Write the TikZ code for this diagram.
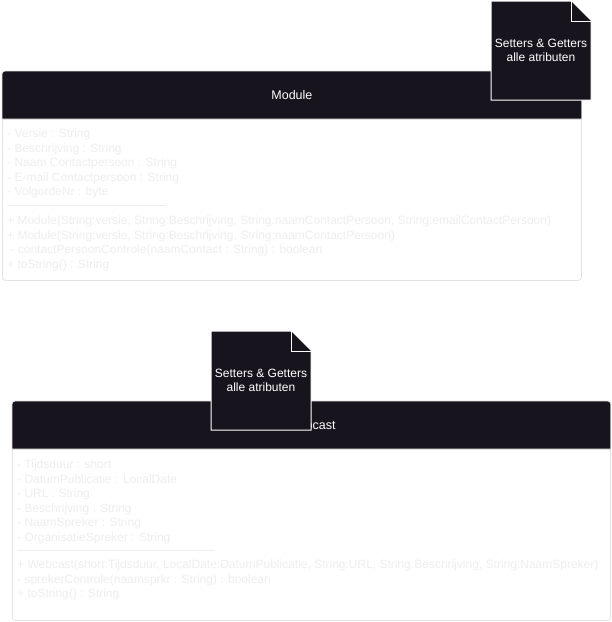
\documentclass[tikz,border=0pt]{standalone}
\usepackage{fontspec}
\setmainfont{Liberation Sans}
\usepackage{xcolor}
\definecolor{header}{RGB}{24, 20, 29}
\definecolor{faint}{RGB}{238, 238, 238}
\definecolor{edge}{RGB}{226, 226, 226}
\usetikzlibrary{positioning,calc}

\begin{document}
\begin{tikzpicture}[
  x=1pt, y=-1pt,
  classbox/.style={draw=edge, line width=0.8pt, fill=white, rounded corners=3pt, anchor=north west, inner sep=0pt},
  headfill/.style={fill=header, draw=edge, line width=0.8pt},
  title/.style={text=white, font=\fontsize{12.5}{14}\selectfont},
  members/.style={text=faint, font=\fontsize{12}{14.5}\selectfont, align=left, anchor=north west, inner sep=0pt},
  divider/.style={draw=faint, line width=0.8pt},
  notebg/.style={fill=header, draw=white, line width=1pt},
  notetext/.style={text=white, font=\fontsize{12}{14}\selectfont, align=center, inner sep=0pt}
]
\useasboundingbox (0,0) rectangle (612,622);

\node[classbox, minimum width=579pt, minimum height=209pt] (module) at (2,71) {};
\path[headfill] ($(module.north west)+(0,48)$) [rounded corners=3pt] -- (module.north west) -- (module.north east) [sharp corners] -- ($(module.north east)+(0,48)$) -- cycle;
\node[title] (moduletitle) at ($(module.north)+(0,24)$) {Module};
\node[members] (moduleattrs) at ($(module.north west)+(5,58)$) {- Versie : String\\- Beschrijving : String\\- Naam Contactpersoon : String\\- E-mail Contactpersoon : String\\- VolgordeNr : byte};
\draw[divider] ($(module.north west)+(5,134)$) -- +(159,0);
\node[members] (modulemethods) at ($(module.north west)+(5,145)$) {+ Module(String:versie, String:Beschrijving, String:naamContactPersoon, String:emailContactPersoon)\\+ Module(String:versie, String:Beschrijving, String:naamContactPersoon)\\\ - contactPersoonControle(naamContact : String) : boolean\\+ toString() : String};

\coordinate (modulenote) at (491,1);
\draw[notebg] (modulenote) -- ++(80,0) -- ++(20,20) -- ++(0,79) -- ++(-100,0) -- cycle;
\draw[notebg] ($(modulenote)+(80,0)$) -- ++(0,20) -- ++(20,0);
\node[notetext] (modulenotetext) at ($(modulenote)+(50,49)$) {Setters \& Getters\\alle atributen};

\node[classbox, minimum width=598pt, minimum height=219pt] (webcast) at (12,401) {};
\path[headfill] ($(webcast.north west)+(0,48)$) [rounded corners=3pt] -- (webcast.north west) -- (webcast.north east) [sharp corners] -- ($(webcast.north east)+(0,48)$) -- cycle;
\node[title] (webcasttitle) at ($(webcast.north)+(0,24)$) {Webcast};
\node[members] (webcastattrs) at ($(webcast.north west)+(5,59)$) {- Tijdsduur : short\\- DatumPublicatie : LocalDate\\- URL : String\\- Beschrijving : String\\- NaamSpreker : String\\- OrganisatieSpreker : String};
\draw[divider] ($(webcast.north west)+(5,149)$) -- +(198,0);
\node[members] (webcastmethods) at ($(webcast.north west)+(5,159)$) {+ Webcast(short:Tijdsduur, LocalDate:DatumPublicatie, String:URL, String:Beschrijving, String:NaamSpreker)\\- sprekerControle(naamsprkr : String) : boolean\\+ toString() : String};

\coordinate (webcastnote) at (211,331);
\draw[notebg] (webcastnote) -- ++(80,0) -- ++(20,20) -- ++(0,79) -- ++(-100,0) -- cycle;
\draw[notebg] ($(webcastnote)+(80,0)$) -- ++(0,20) -- ++(20,0);
\node[notetext] (webcastnotetext) at ($(webcastnote)+(50,49)$) {Setters \& Getters\\alle atributen};
\end{tikzpicture}
\end{document}
